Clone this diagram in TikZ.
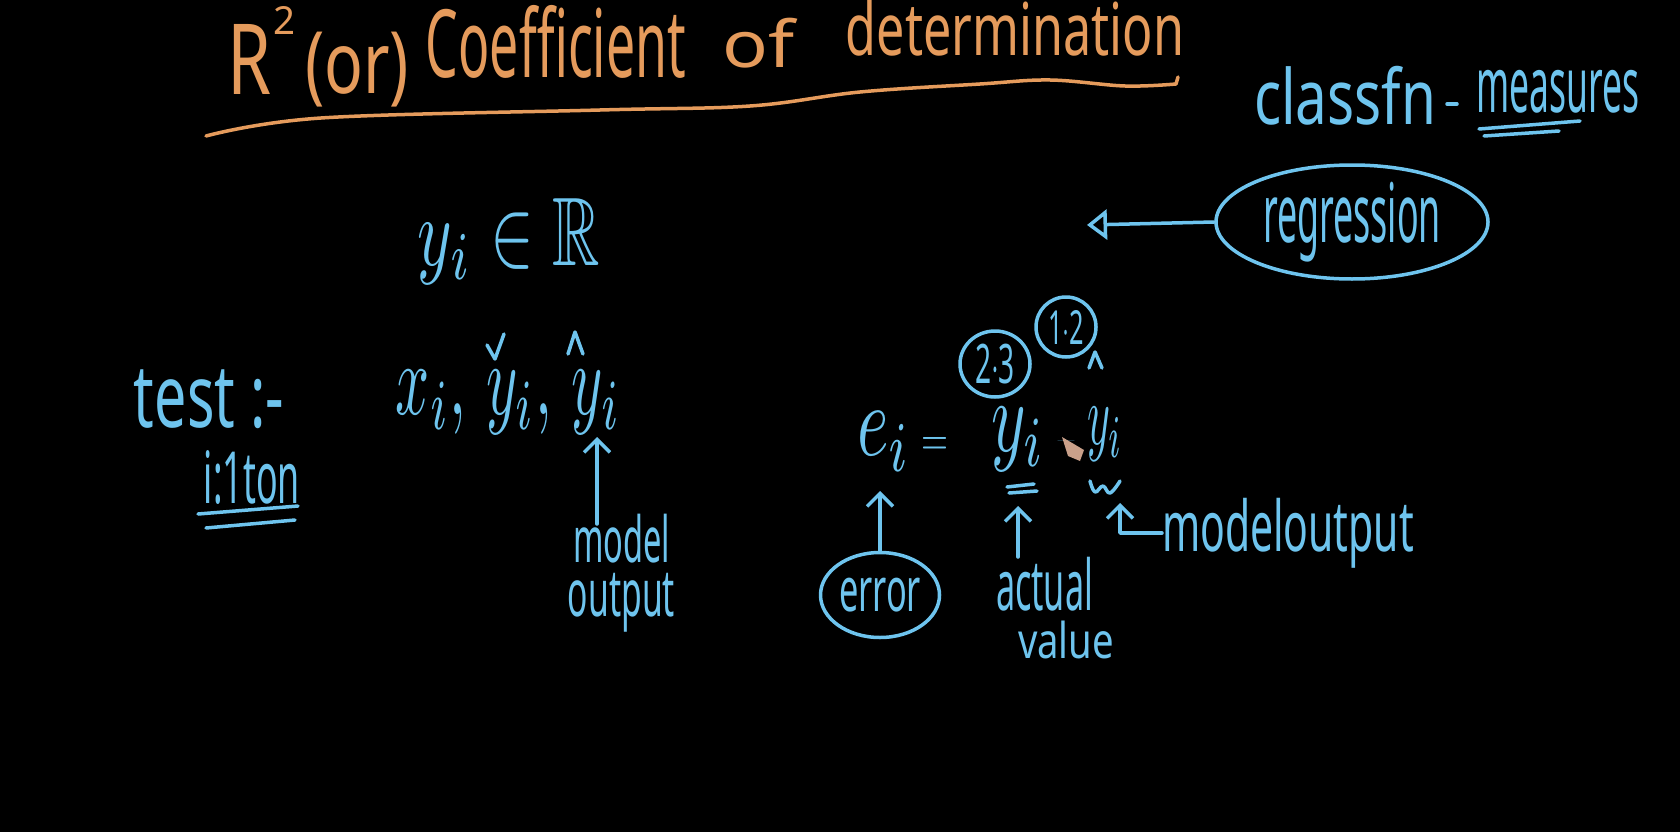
\documentclass[tikz,border=0pt]{standalone}
\usepackage{fontspec}
\setmainfont{Noto Sans}
\usepackage{amssymb}
\usepackage{graphicx}
\usetikzlibrary{arrows.meta,shapes.geometric}
\definecolor{chalkblue}{HTML}{6EC4EE}
\definecolor{chalkorange}{HTML}{E59B5C}
\definecolor{pencil}{HTML}{C9A08A}
\newcommand{\fitbox}[3]{\resizebox*{#1pt}{#2pt}{#3}}
\begin{document}
\begin{tikzpicture}[x=1pt,y=-1pt,
  hw/.style={inner sep=0pt,outer sep=0pt,text=chalkblue},
  ohw/.style={inner sep=0pt,outer sep=0pt,text=chalkorange},
  stroke/.style={draw=chalkblue,line width=3.5pt,line cap=round,line join=round},
  ostroke/.style={draw=chalkorange,line width=3.5pt,line cap=round,line join=round},
  barb/.style={-{Straight Barb[length=13pt,width=26pt]}},
  tri/.style={-{Triangle[open,length=20pt,width=30pt]}},
  ring/.style={stroke,ellipse,inner sep=0pt,text=chalkblue}]
\fill[black] (0,0) rectangle (1680,832);
\useasboundingbox (0,0) rectangle (1680,832);

% ---------- title ----------
\node[ohw] (tR) at (250,59) {\fitbox{44}{70}{R}};
\node[ohw] (t2) at (284,20) {\fitbox{22}{28}{2}};
\node[ohw] (tor) at (357,69.5) {\fitbox{104}{75}{(or)}};
\node[ohw] (tcoef) at (556,41.5) {\fitbox{260}{73}{Coefficient}};
\node[ohw] (tof) at (759,43) {\fitbox{72}{50}{of}};
\node[ohw] (tdet) at (1015,28) {\fitbox{338}{56}{determination}};
\draw[ostroke] plot[smooth,tension=0.6] coordinates {(206,136) (321,118) (600,110) (750,106) (860,92) (980,84) (1050,80) (1125,86) (1176,84)} -- (1178,77);

% ---------- classfn - measures / regression ----------
\node[hw] (classfn) at (1345,95.5) {\fitbox{182}{59}{classfn}};
\draw[stroke] (1447,104) -- (1457,104);
\node[hw] (measures) at (1557.5,91.5) {\fitbox{163}{43}{measures}};
\draw[stroke] (1479,129) -- (1580,121);
\draw[stroke] (1484,136) -- (1559,131);
\node[ring,minimum width=272pt,minimum height=114pt] (reg) at (1352,222) {\fitbox{178}{80}{regression}};
\coordinate (regtip) at (1087,225);
\draw[stroke,tri] (reg.west) -- (regtip);

% ---------- y_i in R ----------
\node[hw] (yinR) at (509,241) {\fitbox{182}{86}{$y_i\in\mathbb{R}$}};

% ---------- test ----------
\node[hw] (test) at (209,399.5) {\fitbox{150}{59}{test :-}};
\node[hw] (iton) at (252,477) {\fitbox{96}{54}{i:1ton}};
\draw[stroke] (198,514) -- (298,506);
\draw[stroke] (206,528) -- (295,520);

% ---------- x_i, y_i, yhat_i ----------
\node[hw] (xyy) at (508.5,402) {\fitbox{225}{64}{$x_i,\,y_i,\,y_i$}};
\draw[stroke] (487,345) -- (495,359) -- (504,334);
\draw[stroke] (568,354) -- (575,332) -- (583,354);
\node[hw] (model) at (621.5,538.5) {\fitbox{97}{49}{model}};
\node[hw] (output) at (621.5,602.5) {\fitbox{107}{59}{output}};
\coordinate (motip) at (597,437);
\draw[stroke,barb,shorten <=-10pt] (model.north -| motip) -- (motip);

% ---------- e_i = y_i - yhat_i ----------
\node[hw] (ei) at (884,441.5) {\fitbox{54}{59}{$e_i$}};
\node[hw] (eq) at (934.5,446) {\fitbox{27}{18}{$=$}};
\node[hw] (y1) at (1018,439) {\fitbox{54}{64}{$y_i$}};
\node[hw] (minus) at (1066,441) {\fitbox{22}{4}{$-$}};
\node[hw] (y2) at (1105,434) {\fitbox{36}{54}{$y_i$}};
\draw[stroke] (1089,368) -- (1095,352) -- (1102,368);
\node[ring,minimum width=70pt,minimum height=66pt] (c23) at (995,364) {\fitbox{40}{40}{2$\cdot$3}};
\node[ring,minimum width=60pt,minimum height=60pt] (c12) at (1066,327) {\fitbox{36}{34}{1$\cdot$2}};
\draw[stroke] (1007,487) -- (1034,484);
\draw[stroke] (1009,493) -- (1037,491);
\draw[stroke] plot[smooth,tension=0.7] coordinates {(1090,481) (1095,492) (1103,486) (1110,493) (1120,481)};
\fill[pencil] (1062,437) -- (1084,450) -- (1080,461) -- (1068,456) -- cycle;

\node[ring,minimum width=119pt,minimum height=85pt] (err) at (880,595) {\fitbox{82}{34}{error}};
\coordinate (eitip) at (880,491);
\draw[stroke,barb] (err.north) -- (eitip);

\node[hw] (actual) at (1044.5,584) {\fitbox{97}{54}{actual}};
\node[hw] (value) at (1066,640) {\fitbox{96}{38}{value}};
\coordinate (actip) at (1018,506);
\draw[stroke,barb] (actual.north -| actip) -- (actip);

\node[hw] (mo) at (1288,533) {\fitbox{252}{70}{modeloutput}};
\coordinate (motip2) at (1120,503);
\draw[stroke,barb] (mo.west) -| (motip2);
\end{tikzpicture}
\end{document}
